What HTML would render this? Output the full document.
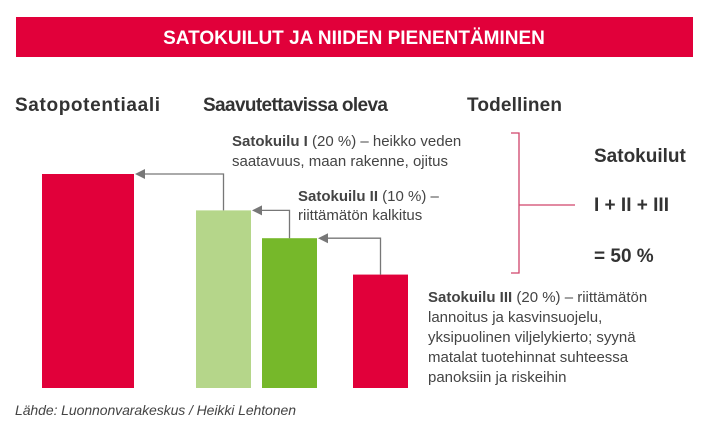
<!DOCTYPE html>
<html><head><meta charset="utf-8"><style>
body{margin:0;background:#fff;}
svg{display:block;font-family:"Liberation Sans Narrow","Liberation Sans",sans-serif;}
</style></head><body>
<svg id="c" width="712" height="440" viewBox="0 0 712 440">
<rect x="16" y="17" width="677" height="40" fill="#e1003a"/>
<text x="354" y="44" text-anchor="middle" fill="#fff" font-size="19" font-weight="bold">SATOKUILUT JA NIIDEN PIENENTÄMINEN</text>
<g font-size="19" fill="#333" font-weight="bold">
<text x="15" y="111" textLength="145">Satopotentiaali</text>
<text x="203" y="111" textLength="185">Saavutettavissa oleva</text>
<text x="467" y="111" textLength="95">Todellinen</text>
</g>
<g id="bars"></g>
<g id="arrows"></g>
<g font-size="15" fill="#444">
<text x="232" y="146"><tspan font-weight="bold">Satokuilu I</tspan> (20 %) – heikko veden</text>
<text x="232" y="166">saatavuus, maan rakenne, ojitus</text>
<text x="298" y="201"><tspan font-weight="bold">Satokuilu II</tspan> (10 %) –</text>
<text x="298" y="220">riittämätön kalkitus</text>
<text x="428" y="302"><tspan font-weight="bold">Satokuilu III</tspan> (20 %) – riittämätön</text>
<text x="428" y="322">lannoitus ja kasvinsuojelu,</text>
<text x="428" y="342">yksipuolinen viljelykierto; syynä</text>
<text x="428" y="362">matalat tuotehinnat suhteessa</text>
<text x="428" y="382">panoksiin ja riskeihin</text>
</g>
<path d="M511 133 H519 V273 H511 M519 205 H575" fill="none" stroke="#d0436a" stroke-width="1.3"/>
<g font-size="19" fill="#333" font-weight="bold">
<text x="594" y="162">Satokuilut</text>
<text x="594" y="211">I + II + III</text>
<text x="594" y="262">= 50 %</text>
</g>
<text x="15" y="415" font-size="14" font-style="italic" fill="#444" textLength="281">Lähde: Luonnonvarakeskus / Heikki Lehtonen</text>
</svg>
<script>
const categories=["Satopotentiaali","Saavutettavissa I","Saavutettavissa II","Todellinen"];
const values=[100,83,70,53];
const colors=["#e1003a","#b5d68a","#76b82a","#e1003a"];
const xL=[42,196,262,353], widths=[92,55,55,55];
const base=388, top100=174;
function y(v){return base-(base-top100)*v/100;}
const ns="http://www.w3.org/2000/svg";
const bg=document.getElementById('bars'), ag=document.getElementById('arrows');
values.forEach((v,i)=>{
 const r=document.createElementNS(ns,'rect');
 r.setAttribute('x',xL[i]);r.setAttribute('width',widths[i]);
 r.setAttribute('y',y(v));r.setAttribute('height',base-y(v));
 r.setAttribute('fill',colors[i]);
 
 
 bg.appendChild(r);
 if(i>0){
  const cx=xL[i]+widths[i]/2, ty=y(values[i-1]), ex=xL[i-1]+widths[i-1];
  const p=document.createElementNS(ns,'path');
  p.setAttribute('d',`M${cx} ${y(v)} V${ty} H${ex+9}`);
  p.setAttribute('fill','none');p.setAttribute('stroke','#777');p.setAttribute('stroke-width','1.3');
  
  
  ag.appendChild(p);
  const h=document.createElementNS(ns,'path');
  h.setAttribute('d',`M${ex+1} ${ty} L${ex+11} ${ty-5} L${ex+11} ${ty+5}Z`);
  h.setAttribute('fill','#777');
  
  
  ag.appendChild(h);
 }
});
</script>
</body></html>
